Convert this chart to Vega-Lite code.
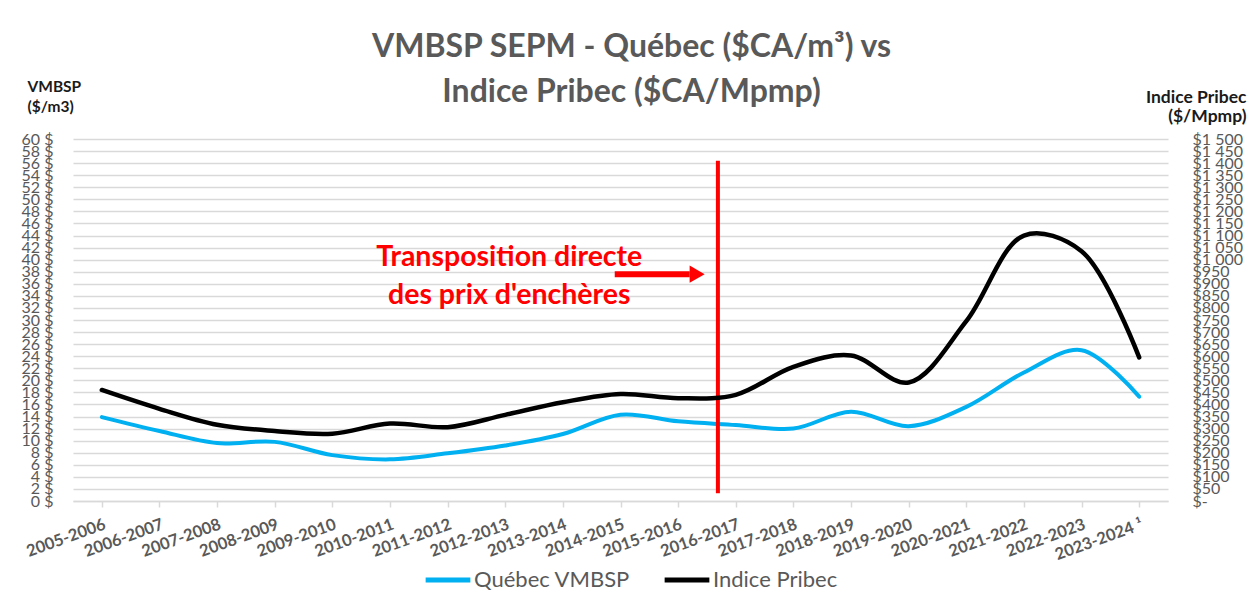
{
  "$schema": "https://vega.github.io/schema/vega-lite/v6.json",
  "width": 1095,
  "height": 362,
  "autosize": {"type": "none"},
  "padding": {"left": 73, "top": 139, "right": 81, "bottom": 109},
  "background": "white",
  "config": {"view": {"stroke": null}, "font": "Lato"},
  "title": {
    "text": ["VMBSP SEPM - Québec ($CA/m³) vs", "Indice Pribec ($CA/Mpmp)"],
    "font": "Lato",
    "fontSize": 32,
    "fontWeight": "bold",
    "color": "#595959",
    "anchor": "middle",
    "offset": -30,
    "dx": 11,
    "lineHeight": 45
  },
  "data": {
    "values": [
      {"i": 0, "period": "2005-2006", "vmbsp": 13.9, "pribec": 460},
      {"i": 1, "period": "2006-2007", "vmbsp": 11.6, "pribec": 382},
      {"i": 2, "period": "2007-2008", "vmbsp": 9.6, "pribec": 316},
      {"i": 3, "period": "2008-2009", "vmbsp": 9.8, "pribec": 290},
      {"i": 4, "period": "2009-2010", "vmbsp": 7.6, "pribec": 279},
      {"i": 5, "period": "2010-2011", "vmbsp": 6.9, "pribec": 321},
      {"i": 6, "period": "2011-2012", "vmbsp": 7.9, "pribec": 306},
      {"i": 7, "period": "2012-2013", "vmbsp": 9.2, "pribec": 357},
      {"i": 8, "period": "2013-2014", "vmbsp": 11.1, "pribec": 409},
      {"i": 9, "period": "2014-2015", "vmbsp": 14.3, "pribec": 443},
      {"i": 10, "period": "2015-2016", "vmbsp": 13.2, "pribec": 426},
      {"i": 11, "period": "2016-2017", "vmbsp": 12.6, "pribec": 440},
      {"i": 12, "period": "2017-2018", "vmbsp": 12.0, "pribec": 556},
      {"i": 13, "period": "2018-2019", "vmbsp": 14.8, "pribec": 603},
      {"i": 14, "period": "2019-2020", "vmbsp": 12.4, "pribec": 491},
      {"i": 15, "period": "2020-2021", "vmbsp": 15.6, "pribec": 745},
      {"i": 16, "period": "2021-2022", "vmbsp": 21.3, "pribec": 1100},
      {"i": 17, "period": "2022-2023", "vmbsp": 25.0, "pribec": 1035},
      {"i": 18, "period": "2023-2024", "vmbsp": 17.3, "pribec": 595}
    ]
  },
  "encoding": {
    "x": {
      "field": "i",
      "type": "quantitative",
      "scale": {"domain": [-0.5, 18.5], "nice": false, "zero": false},
      "axis": {
        "title": null,
        "values": [0, 1, 2, 3, 4, 5, 6, 7, 8, 9, 10, 11, 12, 13, 14, 15, 16, 17, 18],
        "labelExpr": "['2005-2006','2006-2007','2007-2008','2008-2009','2009-2010','2010-2011','2011-2012','2012-2013','2013-2014','2014-2015','2015-2016','2016-2017','2017-2018','2018-2019','2019-2020','2020-2021','2021-2022','2022-2023','2023-2024 ¹'][datum.value]",
        "labelAngle": -20,
        "labelAlign": "right",
        "labelBaseline": "top",
        "labelFont": "Lato",
        "labelFontSize": 16.5,
        "labelFontWeight": "bold",
        "labelColor": "#595959",
        "labelPadding": 9,
        "labelFlush": false,
        "labelOverlap": false,
        "grid": false,
        "ticks": true,
        "tickColor": "#D9D9D9",
        "tickWidth": 1.5,
        "tickSize": 6,
        "domainColor": "#D9D9D9",
        "domainWidth": 1.5
      }
    }
  },
  "layer": [
    {
      "encoding": {
        "y": {
          "field": "vmbsp",
          "type": "quantitative",
          "scale": {"domain": [0, 60], "nice": false},
          "axis": {
            "orient": "left",
            "values": [0, 2, 4, 6, 8, 10, 12, 14, 16, 18, 20, 22, 24, 26, 28, 30, 32, 34, 36, 38, 40, 42, 44, 46, 48, 50, 52, 54, 56, 58, 60],
            "labelExpr": "datum.value + ' $'",
            "grid": true,
            "gridColor": "#D9D9D9",
            "gridWidth": 1.5,
            "ticks": false,
            "domain": false,
            "labelFont": "Lato",
            "labelFontSize": 16,
            "labelColor": "#595959",
            "labelOverlap": false,
            "labelPadding": 20,
            "title": ["VMBSP", "($/m3)"],
            "titleAngle": 0,
            "titleAlign": "left",
            "titleBaseline": "top",
            "titleX": -46,
            "titleY": -60,
            "titleFont": "Lato",
            "titleFontSize": 15.5,
            "titleFontWeight": "bold",
            "titleColor": "#1a1a1a",
            "titleLineHeight": 20
          }
        }
      },
      "layer": [
        {
          "mark": {"type": "line", "interpolate": "catmull-rom", "strokeWidth": 4, "strokeCap": "round"},
          "encoding": {
            "color": {
              "datum": "Québec VMBSP",
              "type": "nominal",
              "scale": {"domain": ["Québec VMBSP", "Indice Pribec"], "range": ["#00B0F0", "#000000"]},
              "legend": {
                "orient": "none",
                "legendX": 350,
                "legendY": 416,
                "direction": "horizontal",
                "title": null,
                "symbolType": "stroke",
                "symbolStrokeWidth": 5,
                "symbolSize": 2000,
                "labelFont": "Lato",
                "labelFontSize": 22,
                "labelColor": "#595959",
                "columnPadding": 23,
                "labelOffset": 1
              }
            }
          }
        },
        {
          "data": {"values": [{"i": 10.69, "vmbsp": 56.4, "vmbsp2": 1.3}]},
          "mark": {"type": "rule", "color": "#FF0000", "strokeWidth": 4},
          "encoding": {
            "y2": {"field": "vmbsp2"}
          }
        },
        {
          "data": {"values": [{"i": 8.9, "i2": 10.2, "vmbsp": 37.6}]},
          "mark": {"type": "rule", "color": "#FF0000", "strokeWidth": 6},
          "encoding": {
            "x2": {"field": "i2"}
          }
        },
        {
          "data": {"values": [{"i": 10.33, "vmbsp": 37.6}]},
          "mark": {"type": "point", "shape": "triangle-right", "filled": true, "color": "#FF0000", "opacity": 1, "size": 300}
        },
        {
          "data": {"values": [
            {"i": 7.07, "vmbsp": 40.4, "label": "Transposition directe"},
            {"i": 7.07, "vmbsp": 34.1, "label": "des prix d'enchères"}
          ]},
          "mark": {"type": "text", "color": "#FF0000", "font": "Lato", "fontSize": 28.5, "fontWeight": "bold", "align": "center", "baseline": "middle"},
          "encoding": {
            "text": {"field": "label"}
          }
        }
      ]
    },
    {
      "mark": {"type": "line", "interpolate": "catmull-rom", "strokeWidth": 4.5, "strokeCap": "round"},
      "encoding": {
        "y": {
          "field": "pribec",
          "type": "quantitative",
          "scale": {"domain": [0, 1500], "nice": false},
          "axis": {
            "orient": "right",
            "values": [0, 50, 100, 150, 200, 250, 300, 350, 400, 450, 500, 550, 600, 650, 700, 750, 800, 850, 900, 950, 1000, 1050, 1100, 1150, 1200, 1250, 1300, 1350, 1400, 1450, 1500],
            "labelExpr": "datum.value == 0 ? '$-' : '$' + replace(format(datum.value, ','), ',', ' ')",
            "grid": false,
            "ticks": false,
            "domain": false,
            "labelFont": "Lato",
            "labelFontSize": 16,
            "labelColor": "#595959",
            "labelOverlap": false,
            "labelPadding": 24,
            "title": ["Indice Pribec", "($/Mpmp)"],
            "titleAngle": 0,
            "titleAlign": "right",
            "titleBaseline": "top",
            "titleX": 78,
            "titleY": -51,
            "titleFont": "Lato",
            "titleFontSize": 17.5,
            "titleFontWeight": "bold",
            "titleColor": "#1a1a1a",
            "titleLineHeight": 19
          }
        },
        "color": {"datum": "Indice Pribec", "type": "nominal"}
      }
    }
  ],
  "resolve": {"scale": {"y": "independent"}, "axis": {"y": "independent"}}
}
